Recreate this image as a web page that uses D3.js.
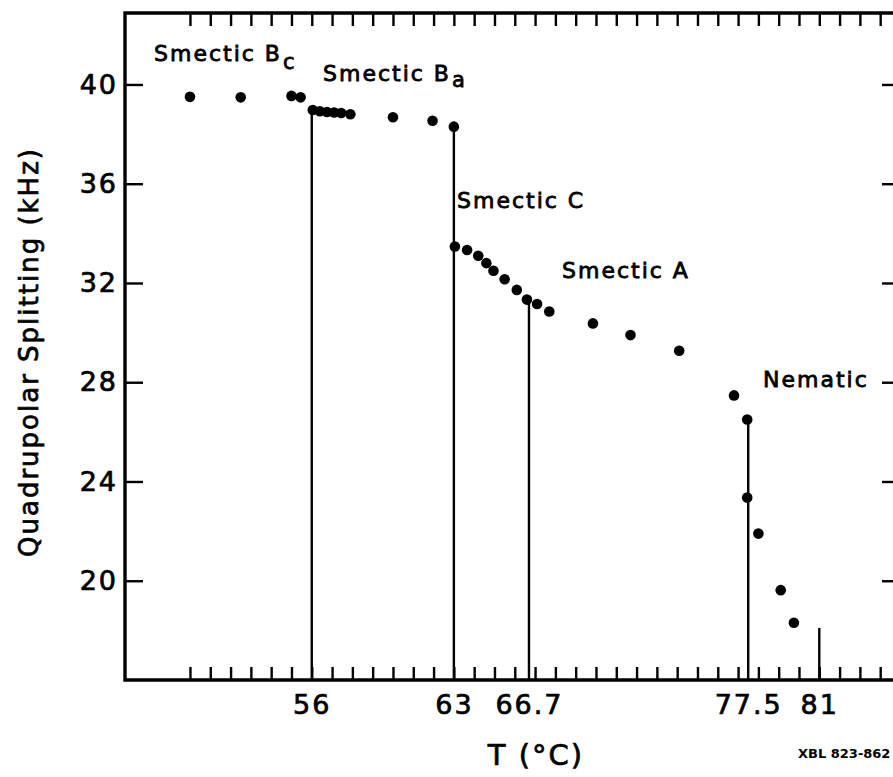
<!DOCTYPE html>
<html>
<head>
<meta charset="utf-8">
<script src="https://cdn.jsdelivr.net/npm/d3@7"></script>
<style>
  html, body { margin: 0; padding: 0; background: #fff; }
  svg { display: block; }
  text { font-family: "DejaVu Sans", sans-serif; fill: #000; }
</style>
</head>
<body>
<svg id="chart" width="893" height="777"></svg>
<script>
// ---- data ----
const temps = [50.0, 52.5, 55.0, 55.45, 56.05, 56.4, 56.75, 57.1, 57.45, 57.9,
               60.0, 61.95, 63.0, 63.05, 63.65, 64.2, 64.6, 64.95, 65.5, 66.1,
               66.6, 67.1, 67.7, 69.85, 71.7, 74.1, 76.8, 77.45, 77.45, 78.0,
               79.1, 79.75];
const splitting = [39.5, 39.48, 39.54, 39.48, 38.97, 38.92, 38.89, 38.87, 38.85, 38.8,
                   38.68, 38.54, 38.3, 33.47, 33.33, 33.1, 32.8, 32.49, 32.15, 31.72,
                   31.33, 31.15, 30.85, 30.37, 29.9, 29.27, 27.47, 26.5, 23.35, 21.9,
                   19.62, 18.31];
const transitionTemps = [56, 63, 66.7, 77.5, 81];
const transitionTops = [38.95, 38.3, 31.35, 26.5, 18.1];
const xTickLabels = ["56", "63", "66.7", "77.5", "81"];
const xMinorTicks = d3.range(50, 85, 1);
const yTicks = [20, 24, 28, 32, 36, 40];
const yTickLabels = ["20", "24", "28", "32", "36", "40"];
const phaseNames = ["Smectic B", "Smectic B", "Smectic C", "Smectic A", "Nematic"];
const phaseSubs = ["c", "a", "", "", ""];

// ---- scales ----
const svg = d3.select("#chart");
const x = d3.scaleLinear().domain([46.8, 84.73]).range([125, 895]);
const y = d3.scaleLinear().domain([16, 42.88]).range([680, 13]);

// ---- axes (ticks inward on all four sides) ----
const bottomTicks = svg.append("g").attr("transform", `translate(0,${y(16)})`)
  .call(d3.axisBottom(x).tickValues(xMinorTicks).tickSize(-13).tickFormat(""));
const topTicks = svg.append("g").attr("transform", `translate(0,${y(42.88)})`)
  .call(d3.axisTop(x).tickValues(xMinorTicks).tickSize(-13).tickFormat(""));
const leftAxis = svg.append("g").attr("transform", `translate(${x(46.8)},0)`)
  .call(d3.axisLeft(y).tickValues(yTicks).tickSize(-18).tickPadding(7)
        .tickFormat((d, i) => yTickLabels[i]));
const rightTicks = svg.append("g").attr("transform", `translate(${x(84.73)},0)`)
  .call(d3.axisRight(y).tickValues(yTicks).tickSize(-13).tickFormat(""));
const xLabels = svg.append("g").attr("transform", `translate(0,${y(16)})`)
  .call(d3.axisBottom(x).tickValues(transitionTemps).tickSize(0).tickPadding(15)
        .tickFormat((d, i) => xTickLabels[i]));

[bottomTicks, topTicks, leftAxis, rightTicks, xLabels].forEach(g => {
  g.select(".domain").remove();
  g.selectAll(".tick line").attr("stroke", "#000").attr("stroke-width", 2.4);
  g.selectAll("text").attr("font-size", 27).attr("fill", "#000")
    .attr("stroke", "#000").attr("stroke-width", 0.7)
    .attr("font-family", "DejaVu Sans, sans-serif").style("letter-spacing", "2px");
});

// ---- frame ----
svg.append("path")
  .attr("d", `M${x(84.73) + 5},${y(42.88)} H${x(46.8)} V${y(16)} H${x(84.73) + 5}`)
  .attr("fill", "none").attr("stroke", "#000").attr("stroke-width", 3.4);

// ---- transition lines ----
svg.append("g").selectAll("line").data(transitionTemps).join("line")
  .attr("x1", d => x(d)).attr("x2", d => x(d))
  .attr("y1", (d, i) => y(transitionTops[i])).attr("y2", y(16))
  .attr("stroke", "#000").attr("stroke-width", 2.4);

// ---- points ----
svg.append("g").selectAll("circle").data(temps).join("circle")
  .attr("cx", d => x(d)).attr("cy", (d, i) => y(splitting[i]))
  .attr("r", 5.3).attr("fill", "#000");

// ---- phase labels ----
const labelPos = [[154, 61, 8], [323, 81, 6], [457, 208, 0], [562, 278, 0], [763, 387, 0]];
phaseNames.forEach((name, i) => {
  const [lx, ly, sub] = labelPos[i];
  const t = svg.append("text").attr("x", lx).attr("y", ly)
    .attr("font-size", 22).style("letter-spacing", "2px")
    .attr("stroke", "#000").attr("stroke-width", 0.8);
  t.append("tspan").text(name);
  if (phaseSubs[i]) {
    t.append("tspan").attr("dx", 1).attr("dy", sub).attr("font-size", 21).text(phaseSubs[i]);
  }
});

// ---- axis titles ----
svg.append("text").attr("x", 536).attr("y", 765).attr("text-anchor", "middle")
  .attr("font-size", 29).style("letter-spacing", "2px")
  .attr("stroke", "#000").attr("stroke-width", 0.7).text("T (°C)");
svg.append("text")
  .attr("transform", "translate(38,352) rotate(-90)")
  .attr("text-anchor", "middle").attr("font-size", 26)
  .style("letter-spacing", "2px")
  .attr("stroke", "#000").attr("stroke-width", 0.7).text("Quadrupolar Splitting (kHz)");

// ---- figure code ----
svg.append("text").attr("x", 798).attr("y", 758)
  .attr("font-family", "DejaVu Sans Mono, monospace").attr("font-weight", "bold")
  .attr("font-size", 13).text("XBL 823-862");
</script>
</body>
</html>
